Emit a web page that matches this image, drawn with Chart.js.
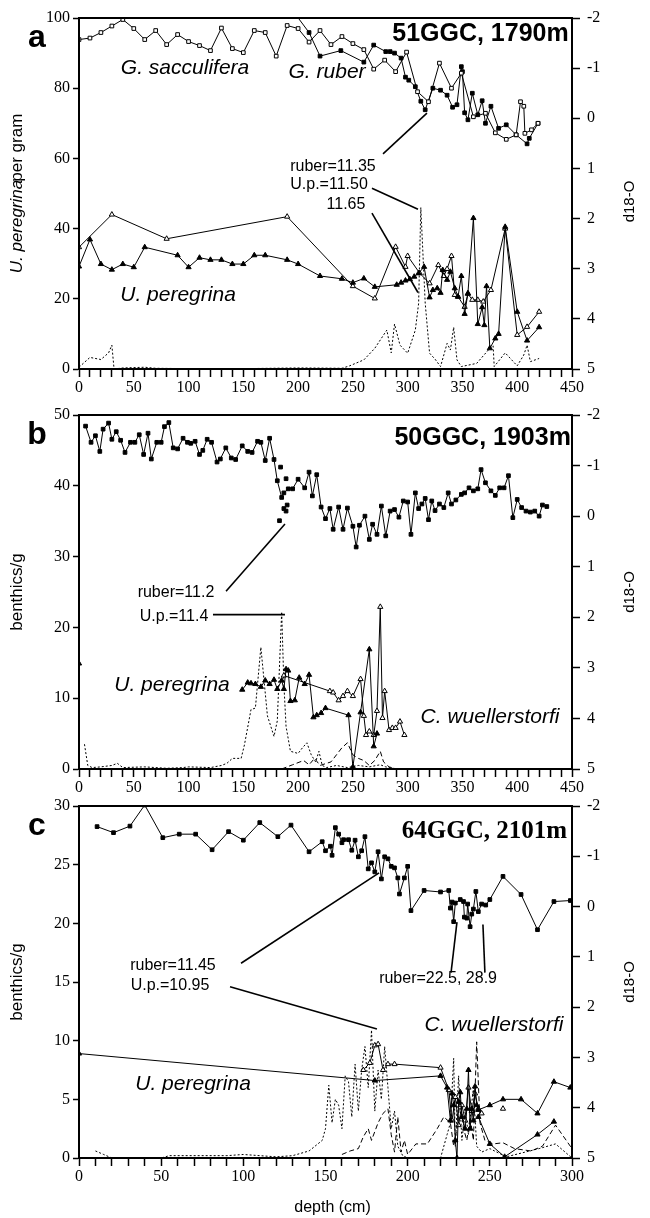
<!DOCTYPE html>
<html>
<head>
<meta charset="utf-8">
<script src="https://cdn.jsdelivr.net/npm/chart.js"></script>
<style>
  body { margin: 0; background: #fff; width: 650px; height: 1218px; position: relative; overflow: hidden; }
  canvas { position: absolute; left: 0; }
</style>
</head>
<body>
<canvas id="chart_a" width="650" height="410" style="top:0px"></canvas>
<canvas id="chart_b" width="650" height="413" style="top:397px"></canvas>
<canvas id="chart_c" width="650" height="430" style="top:788px"></canvas>
<script>
// ---- data: [depth (cm), value] ----
// panel a, 51GGC
const aSacc = [[0,-1.57],[10,-1.6],[20,-1.71],[30,-1.84],[40,-1.97],[50,-1.79],[60,-1.57],[70,-1.75],[80,-1.47],[90,-1.67],[100,-1.53],[110,-1.45],[120,-1.35],[130,-1.8],[140,-1.39],[150,-1.31],[160,-1.75],[170,-1.71],[180,-1.24],[190,-1.85],[200,-1.79],[210,-1.52],[220,-1.75],[230,-1.47],[240,-1.63],[250,-1.49],[260,-1.37],[269,-0.98],[279,-1.16],[289,-0.93],[299,-1.32],[309,-0.53],[319,-0.33],[329,-1.1],[340,-0.6],[349,-0.9],[360,-0.03],[371,-0.1],[380,0.29],[390,0.42],[399,0.33],[403,-0.33],[406,-0.24],[407,0.3],[413,0.23],[419,0.1]];
const aRuber = [[195,-2.15],[210,-1.71],[220,-1.24],[239,-1.35],[260,-1.12],[269,-1.46],[280,-1.33],[284,-1.33],[288,-1.3],[294,-1.2],[298,-0.82],[301,-0.76],[307,-0.63],[312,-0.34],[316,-0.17],[323,-0.6],[330,-0.56],[336,-0.46],[341,-0.22],[345,-0.27],[349,-1.03],[350,-0.93],[352,-0.11],[355,0.03],[359,-0.5],[364,-0.07],[368,-0.35],[371,0.1],[376,-0.24],[383,0.2],[390,0.13],[399,0.33],[409,0.51],[411,0.4],[419,0.1]];
const aUper = [[0,29.2],[10,36.9],[20,29.9],[30,28.3],[40,29.9],[50,29],[60,34.7],[90,32.4],[100,29],[110,31.7],[120,31.1],[130,31.1],[140,29.9],[150,29.9],[160,32.4],[170,32.4],[190,31.1],[200,29.9],[220,26.5],[240,25.7],[250,24.6],[260,25.8],[270,23.4],[290,24],[294,24.6],[298,25.2],[302,25.6],[306,26.3],[310,27.3],[315,29.1],[320,20.4],[323,22.5],[327,23],[330,21.7],[332,28.2],[336,25.4],[339,27.7],[343,23],[346,20.6],[349,26.5],[352,15.7],[355,21.6],[360,43],[364,12.8],[368,17.6],[370,12.5],[372,23.6],[375,5.9],[380,8.7],[383,10],[389,40.5],[400,16.3],[409,8.1],[420,11.9]];
const aCwuel = [[0,34.7],[30,44],[80,37.1],[190,43.4],[250,23.6],[270,20.1],[289,34.8],[298,29.1],[300,32.2],[311,27.3],[320,24.4],[328,29.6],[333,26.5],[336,28.5],[340,32.2],[343,21.1],[346,20.6],[352,17.7],[355,21.4],[359,19.7],[364,19.7],[369,19.2],[376,22.5],[389,40],[400,9.7],[409,12],[420,16.3]];
const aDotted = [[0,0.5],[10,3.3],[20,2.7],[27,4.6],[30,6.8],[32,0],[40,0.3],[60,0.5],[70,0.2],[100,0.1],[150,0.1],[200,0.3],[240,0.2],[247,0.9],[260,2.6],[270,5.9],[281,11.1],[285,4.6],[288,12.8],[293,6.8],[300,4.5],[307,11.1],[310,18.7],[312,46],[316,18.8],[320,4.5],[325,2.8],[330,0.7],[336,7.3],[339,5.4],[342,11.9],[345,2.6],[349,0.7],[363,1.6],[375,5.9],[378,6.6],[379,0.7],[389,4.6],[400,0.9],[406,4],[409,6.8],[412,2.1],[420,3]];

// panel b, 50GGC
const bRuber = [[6,-1.78],[11,-1.46],[15,-1.59],[19,-1.28],[22,-1.72],[27,-1.84],[30,-1.52],[34,-1.67],[38,-1.5],[42,-1.26],[47,-1.46],[51,-1.46],[55,-1.61],[59,-1.22],[63,-1.64],[66,-1.13],[71,-1.46],[75,-1.46],[78,-1.77],[82,-1.85],[86,-1.35],[90,-1.33],[95,-1.54],[99,-1.46],[102,-1.44],[106,-1.48],[110,-1.22],[113,-1.3],[117,-1.52],[121,-1.46],[126,-1.07],[129,-1.13],[134,-1.35],[139,-1.15],[143,-1.12],[149,-1.39],[154,-1.28],[158,-1.26],[163,-1.48],[166,-1.46],[170,-1.1],[174,-1.54],[178,-1.12],[181,-0.7],[185,-0.37],[187,-0.46],[191,-0.54],[195,-0.54],[200,-0.73],[206,-0.56],[210,-0.87],[213,-0.4],[217,-0.82],[221,-0.18],[225,0.05],[229,-0.15],[232,0.26],[237,-0.18],[241,0.26],[245,-0.16],[250,0.2],[253,0.61],[256,0.18],[261,0.0],[265,0.46],[268,0.16],[272,0.36],[276,-0.2],[280,0.39],[284,-0.1],[288,-0.13],[292,0.02],[296,-0.3],[300,-0.28],[303,0.36],[307,-0.46],[310,-0.15],[313,-0.24],[316,-0.35],[319,0.07],[322,-0.3],[325,-0.11],[329,-0.24],[333,-0.17],[337,-0.46],[340,-0.24],[344,-0.32],[349,-0.43],[352,-0.46],[356,-0.56],[360,-0.5],[364,-0.54],[367,-0.92],[371,-0.66],[376,-0.5],[380,-0.41],[384,-0.56],[388,-0.56],[392,-0.8],[396,0.03],[400,-0.33],[404,-0.17],[408,-0.1],[412,-0.08],[416,-0.1],[420,0.0],[423,-0.22],[427,-0.19]];
const bRuberLoose = [[184,-0.97],[189,-0.74],[190,-0.22],[183,0.09],[187,-0.15],[189,-0.1]];
const bUperTop = [[0,14.9]];
const bUper = [[149,11.2],[154,12.2],[157,12.1],[161,12],[166,11.6],[170,12.5],[174,12],[178,12.6],[181,11.3],[185,12.5],[187,11.3],[189,14.1],[191,13.9],[193,9.6],[197,9.7],[201,12.9],[206,12],[210,13.3],[214,7.3],[217,7.6],[221,7.9],[225,8.6],[246,7.6],[250,0.3],[257,8],[265,16.9],[269,3.2],[272,5]];
const bCwuel = [[187,13.2],[229,11],[232,10.8],[237,9.7],[241,10.3],[245,11],[250,10.3],[257,12.7],[260,7.5],[262,4.8],[265,5.3],[269,4.8],[272,8.2],[275,22.9],[277,7.2],[279,11],[283,5.5],[286,5.8],[289,5.8],[293,6.7],[297,4.8]];
const bDotted = [[5,3.5],[8,0.5],[12,0.2],[20,0.3],[30,0.5],[35,0.8],[40,0.2],[60,0.3],[80,0.1],[95,0.2],[100,0.3],[120,0.2],[130,0.5],[135,0.8],[140,1.5],[148,1.5],[151,3.4],[157,8.4],[161,8.6],[166,17.2],[172,7.5],[178,4.6],[181,6.8],[185,22.2],[187,12],[189,6],[193,2.5],[200,2.2],[204,3],[208,3.7],[212,2],[216,1],[219,2.5],[222,0.5],[226,0.2],[235,0.5],[245,0.2],[255,0.5],[265,0.3],[275,0.6],[280,0.3],[290,0]];
const bDashed = [[185,0],[195,0.6],[205,1.2],[210,0.6],[215,1.5],[220,0.5],[230,1],[235,2],[240,3],[245,3.7],[250,2],[255,1.5],[260,1.2],[265,0.5],[270,1.2],[275,2.5],[278,1],[283,0.3],[290,0]];

// panel c, 64GGC
const cRuber = [[11,-1.59],[21,-1.47],[31,-1.6],[40,-2.02],[51,-1.37],[61,-1.44],[71,-1.44],[81,-1.13],[91,-1.49],[100,-1.32],[110,-1.67],[121,-1.39],[129,-1.62],[140,-1.09],[148,-1.29],[150,-1.11],[153,-1.2],[154,-1.02],[156,-1.57],[158,-1.44],[160,-1.27],[161,-1.33],[164,-1.33],[166,-1.12],[168,-1.32],[170,-0.99],[172,-1.11],[174,-1.39],[176,-0.75],[178,-0.87],[180,-0.69],[182,-1.09],[184,-0.55],[186,-0.99],[188,-0.95],[190,-0.8],[192,-0.77],[194,-0.57],[195,-0.25],[198,-0.57],[200,-0.8],[202,0.08],[210,-0.32],[220,-0.29],[225,-0.32],[226,0.03],[227,-0.09],[228,0.3],[229,-0.07],[232,-0.14],[234,-0.1],[234.5,0.21],[236,0.23],[236.5,-0.05],[238,0.4],[239,0.15],[240,0.05],[241.5,-0.3],[243,0.1],[245,-0.05],[247.5,-0.03],[250,-0.14],[258,-0.6],[269,-0.24],[279,0.46],[289,-0.1],[299,-0.12]];
const cUper = [[0,8.9],[180,6.6],[220,7.0],[224,6.0],[226,3.2],[227,5.5],[228,4.5],[229,1.5],[230,0],[231,4.8],[232,5.6],[233,3.5],[235,2.5],[236,4.2],[237,7.5],[238,2.5],[239,4.2],[240,3.2],[241,6.1],[242,4.5],[243,4.1],[250,4.5],[258,5],[269,5],[279,3.8],[289,6.5],[299,6.0]];
const cUperLow = [[243,3.5],[250,1.2],[259,0.1],[279,2.0],[289,3.1]];
const cCwuel = [[173,7.5],[177,8.1],[180,9.6],[182,9.7],[185,7.5],[188,8.0],[192,8.0],[220,7.7],[225,5.8],[227,3.2],[229,5.2],[231,2.8],[233,4.5],[235,3.2],[237,6.0],[239,4.0],[241,5.5],[243,4.2],[245,3.8]];
const cCwuelLoose = [[258,4.2]];
const cDotted = [[10,0.6],[15,0.3],[20,0],[50,0],[55,0.2],[90,0.2],[100,0.3],[120,0.1],[130,0.2],[140,0.6],[148,1.5],[150,2.5],[152,6.2],[154,3],[156,5],[158,4.5],[160,2.5],[162,7],[164,6.5],[166,3.5],[168,8],[170,4],[172,7.5],[174,9.5],[176,6],[178,10.9],[180,4],[182,7.5],[184,5],[186,9.5],[188,6],[190,2.5],[192,4],[194,1],[197,0.2],[200,0],[220,0],[224,2],[226,3],[228,8.5],[229,1],[231,7],[233,1.5],[235,4],[237,2],[240,6],[242,1],[245,0.5],[250,0.8],[260,0.1],[280,0.8],[290,1.2],[300,0]];
const cDashed = [[160,0.3],[165,0.6],[170,0.8],[173,1.8],[176,2.5],[178,1.5],[182,3],[185,3.8],[188,4.2],[190,2],[192,0.5],[194,3.5],[196,0.5],[198,1.5],[200,0.3],[205,1.2],[212,1.2],[218,2.5],[222,3.5],[226,3],[228,1],[230,2.5],[232,5],[234,2.5],[236,1.5],[238,3.5],[240,1.5],[242,9.9],[244,3],[247,1.5],[252,1.2],[258,1.3],[265,0.8],[275,0.6],[282,1],[290,2.8],[300,0.8]];

const SERIF = "'Liberation Serif', 'DejaVu Serif', serif";
const SANS = "'Liberation Sans', Arial, sans-serif";

const pts = arr => arr.map(p => ({ x: p[0], y: p[1] }));

function squares(arr, filled) {
  return { data: pts(arr), yAxisID: 'yR', borderColor: '#000', borderWidth: 1, tension: 0,
    pointStyle: 'rect', pointRadius: 2.6, pointBorderWidth: 1, pointBorderColor: '#000',
    pointBackgroundColor: filled ? '#000' : '#fff' };
}
function triangles(arr, filled, showLine = true) {
  return { data: pts(arr), yAxisID: 'yL', borderColor: '#000', borderWidth: 1, tension: 0, showLine,
    pointStyle: 'triangle', pointRadius: 3, pointBorderWidth: 1, pointBorderColor: '#000',
    pointBackgroundColor: filled ? '#000' : '#fff' };
}
function dashed(arr, dash) {
  return { data: pts(arr), yAxisID: 'yL', borderColor: '#000', borderWidth: 1, borderDash: dash,
    tension: 0, pointRadius: 0 };
}

// extra drawing: box, notes, leader lines, axis titles
const decor = {
  id: 'decor',
  afterDatasetsDraw(chart, args, o) {
    const { ctx, chartArea: a, scales } = chart;
    const X = v => scales.x.getPixelForValue(v);
    const Y = v => scales.yL.getPixelForValue(v);
    ctx.save();
    ctx.strokeStyle = '#000';
    ctx.lineWidth = 2;
    ctx.strokeRect(a.left, a.top, a.right - a.left, a.bottom - a.top);
    ctx.lineWidth = 1.6;
    o.lines.forEach(l => {
      ctx.beginPath();
      ctx.moveTo(X(l[0]), Y(l[1]));
      ctx.lineTo(X(l[2]), Y(l[3]));
      ctx.stroke();
    });
    ctx.fillStyle = '#000';
    ctx.textBaseline = 'middle';
    o.notes.forEach(n => {
      ctx.font = n.font;
      ctx.textAlign = n.align || 'center';
      ctx.fillText(n.t, X(n.x), Y(n.y));
    });
    // panel letter
    ctx.font = 'bold 32px ' + SANS;
    ctx.textAlign = 'center';
    ctx.fillText(o.letter, a.left - 42, a.top + 20);
    // right axis title
    ctx.font = '15px ' + SANS;
    ctx.save();
    ctx.translate(a.right + 58, (a.top + a.bottom) / 2 + o.rShift);
    ctx.rotate(-Math.PI / 2);
    ctx.fillText('d18-O', 0, 0);
    ctx.restore();
    // left axis title
    ctx.save();
    ctx.translate(a.left - 62, (a.top + a.bottom) / 2);
    ctx.rotate(-Math.PI / 2);
    if (o.leftItalic) {
      ctx.font = 'italic 17px ' + SANS;
      const w1 = ctx.measureText(o.leftItalic).width;
      ctx.font = '17px ' + SANS;
      const w2 = ctx.measureText(o.leftTitle).width;
      const start = -(w1 + w2 - 2) / 2;
      ctx.textAlign = 'left';
      ctx.font = 'italic 17px ' + SANS;
      ctx.fillText(o.leftItalic, start, 0);
      ctx.font = '17px ' + SANS;
      ctx.fillText(o.leftTitle, start + w1 - 2, 0);
    } else {
      ctx.font = '17px ' + SANS;
      ctx.fillText(o.leftTitle, 0, 0);
    }
    ctx.restore();
    if (o.xTitle) {
      ctx.font = '16px ' + SANS;
      ctx.textAlign = 'center';
      ctx.fillText(o.xTitle, (a.left + a.right) / 2 + 7, a.bottom + 50);
    }
    ctx.restore();
  }
};

function scalesFor(xMax, yMax, yStep, xHeight) {
  const tickFont = { family: SERIF, size: 16 };
  return {
    x: { type: 'linear', min: 0, max: xMax,
      ticks: { stepSize: 10, autoSkip: false, maxRotation: 0, color: '#000', font: tickFont, padding: 1,
        callback: v => (v % 50 === 0 ? v : '') },
      grid: { drawOnChartArea: false, tickLength: 8, tickWidth: 1.5, tickColor: '#000' },
      border: { color: '#000', width: 2 },
      afterFit: s => { s.height = xHeight; } },
    yL: { position: 'left', min: 0, max: yMax,
      ticks: { stepSize: yStep, color: '#000', font: tickFont, padding: 3 },
      grid: { drawOnChartArea: false, tickLength: 6, tickWidth: 1.5, tickColor: '#000' },
      border: { color: '#000', width: 2 },
      afterFit: s => { s.width = 79; } },
    yR: { position: 'right', min: -2, max: 5, reverse: true,
      ticks: { stepSize: 1, color: '#000', font: tickFont, padding: 7 },
      grid: { drawOnChartArea: false, tickLength: 8, tickWidth: 1.5, tickColor: '#000' },
      border: { color: '#000', width: 2 },
      afterFit: s => { s.width = 78; } }
  };
}

function baseOptions(scales, decorOpts) {
  return {
    responsive: false, animation: false,
    layout: { padding: { top: 18, left: 0, right: 0, bottom: 0 } },
    plugins: { legend: { display: false }, tooltip: { enabled: false }, decor: decorOpts },
    scales
  };
}

const noteSans = '16px ' + SANS;
const spp = 'italic 21px ' + SANS;

new Chart(document.getElementById('chart_a'), {
  type: 'line',
  data: { datasets: [
    squares(aSacc, false), squares(aRuber, true),
    triangles(aUper, true), triangles(aCwuel, false),
    dashed(aDotted, [2, 2])
  ] },
  options: baseOptions(scalesFor(450, 100, 20, 41), {
    letter: 'a', leftItalic: 'U. peregrina', leftTitle: 'per gram', rShift: 8,
    lines: [[317.6, 72.9, 277.5, 61.3], [267.4, 51.5, 309.4, 45.5], [267.4, 44.4, 309.4, 21.8]],
    notes: [
      { t: '51GGC, 1790m', x: 447, y: 95.4, font: 'bold 25px ' + SANS, align: 'right' },
      { t: 'G. sacculifera', x: 96.8, y: 85.7, font: spp },
      { t: 'G. ruber', x: 226.4, y: 84.6, font: spp },
      { t: 'U. peregrina', x: 90.4, y: 21, font: spp },
      { t: 'ruber=11.35', x: 231.8, y: 57.8, font: noteSans },
      { t: 'U.p.=11.50', x: 228.2, y: 52.4, font: noteSans },
      { t: '11.65', x: 243.7, y: 46.9, font: noteSans }
    ]
  }),
  plugins: [decor]
});

new Chart(document.getElementById('chart_b'), {
  type: 'line',
  data: { datasets: [
    squares(bRuber, true),
    Object.assign(squares(bRuberLoose, true), { showLine: false }),
    triangles(bUperTop, true, false), triangles(bUper, true), triangles(bCwuel, false),
    dashed(bDotted, [2, 2]), dashed(bDashed, [5, 3])
  ] },
  options: baseOptions(scalesFor(450, 50, 10, 41), {
    letter: 'b', leftTitle: 'benthics/g', rShift: 0,
    lines: [[134.2, 25.1, 188, 34.6], [122.3, 21.8, 188, 21.8]],
    notes: [
      { t: '50GGC, 1903m', x: 449, y: 46.75, font: 'bold 25px ' + SANS, align: 'right' },
      { t: 'ruber=11.2', x: 88.5, y: 24.9, font: noteSans },
      { t: 'U.p.=11.4', x: 86.7, y: 21.5, font: noteSans },
      { t: 'U. peregrina', x: 84.9, y: 11.9, font: spp },
      { t: 'C. wuellerstorfi', x: 375.2, y: 7.3, font: spp }
    ]
  }),
  plugins: [decor]
});

new Chart(document.getElementById('chart_c'), {
  type: 'line',
  data: { datasets: [
    squares(cRuber, true),
    triangles(cUper, true), triangles(cUperLow, true), triangles(cCwuel, false),
    triangles(cCwuelLoose, false, false),
    dashed(cDotted, [2, 2]), dashed(cDashed, [5, 3])
  ] },
  options: baseOptions(scalesFor(300, 30, 5, 60), {
    letter: 'c', leftTitle: 'benthics/g', rShift: 0, xTitle: 'depth (cm)',
    lines: [[98.6, 16.6, 182.6, 24.3], [91.9, 14.6, 181.3, 11.0], [226.4, 15.8, 230, 20.1], [247, 15.8, 245.8, 19.9]],
    notes: [
      { t: '64GGC, 2101m', x: 297, y: 27.8, font: 'bold 25px ' + SERIF, align: 'right' },
      { t: 'ruber=11.45', x: 57.2, y: 16.4, font: noteSans },
      { t: 'U.p.=10.95', x: 55.4, y: 14.7, font: noteSans },
      { t: 'ruber=22.5, 28.9', x: 218.5, y: 15.3, font: noteSans },
      { t: 'C. wuellerstorfi', x: 252.5, y: 11.3, font: spp },
      { t: 'U. peregrina', x: 69.4, y: 6.3, font: spp }
    ]
  }),
  plugins: [decor]
});
</script>
</body>
</html>
